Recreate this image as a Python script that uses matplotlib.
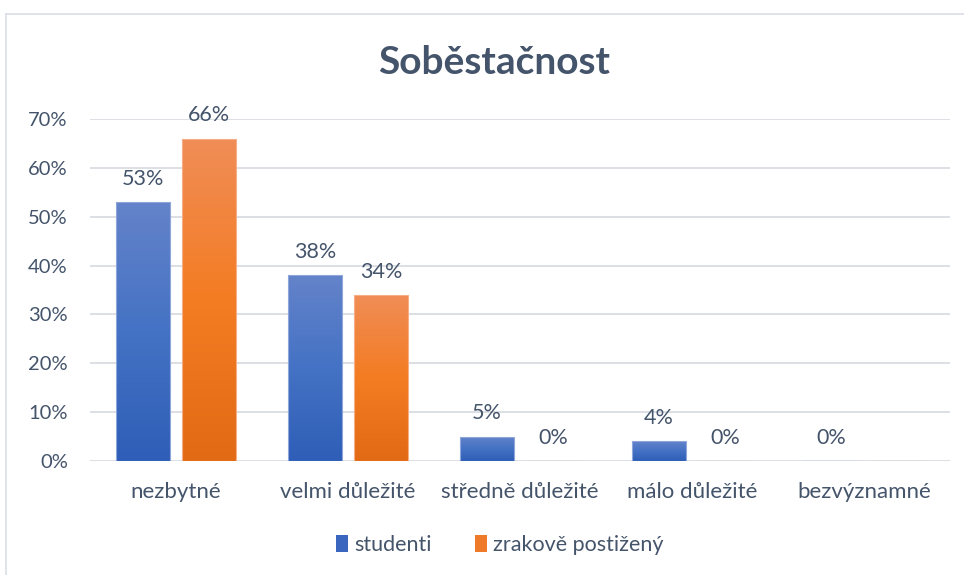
import numpy as np
import matplotlib

matplotlib.use("Agg")
import matplotlib.pyplot as plt
from matplotlib.colors import LinearSegmentedColormap
from matplotlib.patches import Patch
from matplotlib.lines import Line2D

plt.rcParams["font.family"] = ["Lato", "DejaVu Sans"]

# data (fractions)
categories = ["nezbytné", "velmi důležité", "středně důležité", "málo důležité",
              "bezvýznamné"]
series_names = ["studenti", "zrakově postižený"]
studenti = [0.53, 0.38, 0.05, 0.04, 0.00]
zrakove = [0.66, 0.34, 0.00, 0.00, np.nan]
yticks = [0.0, 0.1, 0.2, 0.3, 0.4, 0.5, 0.6, 0.7]

TEXT = "#44546A"
GRID = "#D9DDE3"
blue_cmap = LinearSegmentedColormap.from_list(
    "b", ["#2E5EB7", "#4472C4", "#6483CA"])
orange_cmap = LinearSegmentedColormap.from_list(
    "o", ["#E26A15", "#F47C22", "#F08D57"])

W, H = 964, 575
fig = plt.figure(figsize=(W / 100, H / 100), dpi=100)
ax = fig.add_axes([90 / W, 114 / H, 860 / W, 342 / H])

x = np.arange(len(categories))
bw = 0.31
offs = 0.192
grad = np.linspace(0, 1, 256).reshape(-1, 1)

for vals, off, cmap, edge in [(studenti, -offs, blue_cmap, "#8FA6DA"),
                              (zrakove, offs, orange_cmap, "#F5AE85")]:
    v = np.array(vals, dtype=float)
    bars = ax.bar(x + off, np.nan_to_num(v), width=bw, color="none",
                  edgecolor=edge, linewidth=0.8, zorder=3)
    for b, val in zip(bars, v):
        if np.isnan(val):
            continue
        if val > 0:
            x0, w, h = b.get_x(), b.get_width(), b.get_height()
            im = ax.imshow(grad, cmap=cmap, origin="lower", aspect="auto",
                           extent=[x0, x0 + w, 0, h], zorder=2)
            im.set_clip_path(b)
        ax.annotate(f"{val * 100:.0f}%", (b.get_x() + b.get_width() / 2, val),
                    xytext=(0, 12.5), textcoords="offset points",
                    ha="center", va="baseline", fontsize=15.5, color=TEXT)

ax.set_xlim(-0.5, len(categories) - 0.5)
ax.set_ylim(0, 0.7)
ax.set_yticks(yticks)
ax.set_yticklabels([f"{t * 100:.0f}%" for t in yticks], fontsize=14.5)
ax.set_xticks(x)
ax.set_xticklabels(categories, fontsize=16)
ax.tick_params(axis="both", length=0, labelcolor=TEXT)
ax.tick_params(axis="x", pad=15)
ax.tick_params(axis="y", pad=16)
ax.grid(axis="y", color=GRID, linewidth=1.3, zorder=0)
ax.set_axisbelow(True)
for s in ax.spines.values():
    s.set_visible(False)

fig.text(494 / W, 1 - 62 / H, "Soběstačnost", ha="center", va="center",
         fontsize=28, fontweight="bold", color=TEXT)

handles = [Patch(facecolor="#3A66C0"), Patch(facecolor="#EE7A2A")]
fig.legend(handles, series_names, loc="center",
           bbox_to_anchor=(500 / W, 1 - 545 / H), ncol=2, frameon=False,
           fontsize=15.5, labelcolor=TEXT, handlelength=0.55, handleheight=0.8,
           handletextpad=0.3, columnspacing=2.0)

# chart border (left and top only visible)
fig.add_artist(Line2D([5.5 / W, 5.5 / W], [0, 1 - 14 / H], color="#D9DEE5",
                      linewidth=1.2))
fig.add_artist(Line2D([5.5 / W, 1], [1 - 14 / H, 1 - 14 / H],
                      color="#D9DEE5", linewidth=1.2))

fig.savefig("out.png", dpi=100)
